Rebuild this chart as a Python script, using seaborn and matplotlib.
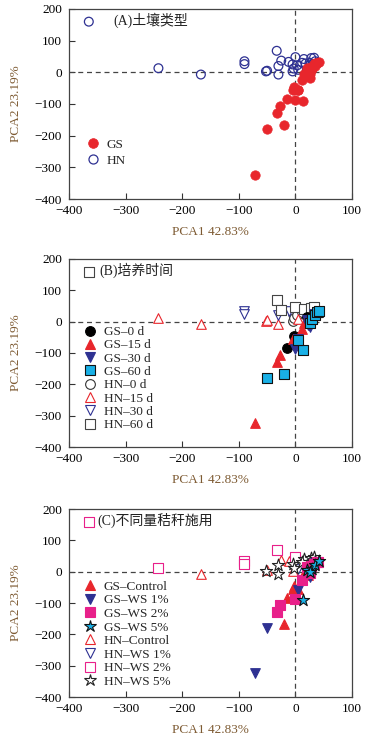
import matplotlib
matplotlib.use("Agg")
import matplotlib.pyplot as plt
import seaborn as sns
import pandas as pd
from matplotlib.lines import Line2D

sns.set_theme(style="white")
plt.rcParams['font.family'] = ['Liberation Serif', 'Noto Sans CJK SC']
plt.rcParams['axes.unicode_minus'] = True

# ---------------- data ----------------
gs_x = [-72, -50, -20, -33, -28, -15, 0, 14, -3, -5, 5, 5, 12, 25, 22, 25, 15, 20, 30, 28, 35, 33, 38, 42, 30, 20, 25, 35]
gs_y = [-323, -180, -166, -128, -105, -85, -88, -90, -45, -55, -57, -55, -25, -18, -10, -5, -5, 5, 10, 18, 20, 25, 30, 33, 15, 15, 0, 28]
gs_time = [15, 60, 60, 15, 15, 0, 30, 60, 0, 15, 60, 30, 15, 30, 30, 60, 15, 30, 60, 15, 60, 30, 60, 60, 0, 0, 0, 15]
gs_trt = ["WS1", "WS1", "Control", "WS2", "WS2", "Control", "WS2", "WS5", "Control", "Control", "WS1", "Control",
          "WS2", "WS1", "Control", "WS2", "Control", "WS5", "WS5", "WS2", "WS5", "WS2", "WS2", "WS5", "WS1", "WS2", "WS5", "WS1"]

hn_x = [-365, -242, -167, -90, -90, -52, -50, -33, -30, -30, -25, -12, -5, -5, -3, 0, 3, 5, 15, 18, 28, 33, 25, 35, 40, 12, 30]
hn_y = [160, 13, -7, 35, 26, 3, 5, 68, 20, -7, 37, 33, 25, 3, 12, 48, 22, 8, 42, 28, 45, 46, 30, 35, 30, 30, 25]
hn_time = [60, 15, 15, 30, 30, 15, 15, 60, 30, 15, 60, 30, 0, 0, 0, 60, 0, 15, 60, 30, 60, 60, 0, 15, 60, 0, 30]
hn_trt = ["WS2", "WS2", "Control", "WS2", "WS2", "WS5", "Control", "WS2", "WS5", "WS5", "Control", "Control",
          "WS5", "Control", "WS5", "WS2", "WS1", "WS1", "WS5", "WS1", "WS5", "WS5", "WS5", "WS5", "WS2", "WS5", "WS5"]

times = [0, 15, 30, 60]
treatments = ["Control", "WS1", "WS2", "WS5"]
trt_labels = {"Control": "Control", "WS1": "WS 1%", "WS2": "WS 2%", "WS5": "WS 5%"}
panel_titles = ["(A)土壤类型", "(B)培养时间", "(C)不同量秸秆施用"]
xlabel = "PCA1 42.83%"
ylabel = "PCA2 23.19%"

gs = pd.DataFrame({"x": gs_x, "y": gs_y, "time": gs_time, "trt": gs_trt, "soil": "GS"})
hn = pd.DataFrame({"x": hn_x, "y": hn_y, "time": hn_time, "trt": hn_trt, "soil": "HN"})

RED = "#e8262c"
NAVY = "#2e3192"
CYAN = "#19b0e6"
MAG = "#e8208a"
LABC = "#7d5a32"

W, H = 378, 736
fig = plt.figure(figsize=(W / 100, H / 100), dpi=100)
boxes = [(69, 9, 199), (69, 259, 447), (69, 509, 697)]
axes = []
for l, t, b in boxes:
    ax = fig.add_axes([l / W, (H - b) / H, 283 / W, (b - t) / H])
    axes.append(ax)

FS = 9.5


def style_axis(ax, title, tx):
    ax.set_xlim(-400, 100)
    ax.set_ylim(-400, 200)
    ax.set_xticks([-400, -300, -200, -100, 0, 100])
    ax.set_yticks([-400, -300, -200, -100, 0, 100, 200])
    ax.tick_params(direction="in", length=4, width=0.8, labelsize=FS, colors="#333333",
                   labelcolor="black", left=True, bottom=True)
    ax.tick_params(axis="y", pad=5)
    ax.tick_params(axis="x", pad=4)
    for s in ax.spines.values():
        s.set_color("#444444")
        s.set_linewidth(0.9)
    ax.axhline(0, color="#444444", ls=(0, (4, 3)), lw=0.9, zorder=1)
    ax.axvline(0, color="#444444", ls=(0, (4, 3)), lw=0.9, zorder=1)
    ax.set_xlabel(xlabel, color=LABC, fontsize=FS, labelpad=7)
    ax.set_ylabel(ylabel, color=LABC, fontsize=FS, labelpad=9)
    ax.text(tx, 163, title, fontsize=10, va="center", ha="left", color="#222222")


def scat(ax, df, marker, fc, ec, s, lw=0.8, z=3):
    sns.scatterplot(data=df, x="x", y="y", ax=ax, marker=marker, s=s,
                    color=fc, edgecolor=ec, linewidth=lw, zorder=z, legend=False)


def handle(marker, fc, ec, ms, lw=0.8):
    return Line2D([], [], ls="none", marker=marker, markerfacecolor=fc,
                  markeredgecolor=ec, markersize=ms, markeredgewidth=lw)


# ---------- panel A ----------
ax = axes[0]
scat(ax, hn, "o", "none", NAVY, 40, 0.9)
scat(ax, gs, "o", RED, RED, 46, 0.5, 4)
style_axis(ax, panel_titles[0], -322)
hA = [handle("o", RED, RED, 7, 0.5), handle("o", "none", NAVY, 6.5, 0.9)]
ax.legend(hA, ["GS", "HN"], loc="lower left", bbox_to_anchor=(0.03, 0.12), frameon=False,
          fontsize=FS, handletextpad=0.5, labelspacing=0.3, handlelength=1.0, borderpad=0.2)

# ---------- panel B ----------
ax = axes[1]
t_style_gs = {0: ("o", "black", "black"), 15: ("^", RED, RED), 30: ("v", NAVY, NAVY), 60: ("s", CYAN, "#111111")}
t_style_hn = {0: ("o", "white", "#333333"), 15: ("^", "white", RED), 30: ("v", "white", NAVY), 60: ("s", "white", "#444444")}
for t in times:
    m, fc, ec = t_style_hn[t]
    scat(ax, hn[hn.time == t], m, fc, ec, 48, 0.8, 3)
for t in times:
    m, fc, ec = t_style_gs[t]
    scat(ax, gs[gs.time == t], m, fc, ec, 48, 0.8, 4)
style_axis(ax, panel_titles[1], -346)
hB, lB = [], []
for t in times:
    m, fc, ec = t_style_gs[t]
    hB.append(handle(m, fc, ec, 7)); lB.append(f"GS–{t} d")
for t in times:
    m, fc, ec = t_style_hn[t]
    hB.append(handle(m, fc, ec, 7)); lB.append(f"HN–{t} d")
ax.legend(hB, lB, loc="lower left", bbox_to_anchor=(0.02, 0.035), frameon=False,
          fontsize=FS, handletextpad=0.5, labelspacing=0.08, handlelength=1.0, borderpad=0.2)

# ---------- panel C ----------
ax = axes[2]
c_style_gs = {"Control": ("^", RED, RED), "WS1": ("v", NAVY, NAVY), "WS2": ("s", MAG, MAG), "WS5": ("*", CYAN, "#111111")}
c_style_hn = {"Control": ("^", "white", RED), "WS1": ("v", "white", NAVY), "WS2": ("s", "white", MAG), "WS5": ("*", "white", "#222222")}
for tr in treatments:
    m, fc, ec = c_style_hn[tr]
    scat(ax, hn[hn.trt == tr], m, fc, ec, 85 if m == "*" else 48, 0.8, 3)
for tr in treatments:
    m, fc, ec = c_style_gs[tr]
    scat(ax, gs[gs.trt == tr], m, fc, ec, 85 if m == "*" else 48, 0.8, 4)
style_axis(ax, panel_titles[2], -349)
hC, lC = [], []
for tr in treatments:
    m, fc, ec = c_style_gs[tr]
    hC.append(handle(m, fc, ec, 9 if m == "*" else 7)); lC.append(f"GS–{trt_labels[tr]}")
for tr in treatments:
    m, fc, ec = c_style_hn[tr]
    hC.append(handle(m, fc, ec, 9 if m == "*" else 7)); lC.append(f"HN–{trt_labels[tr]}")
ax.legend(hC, lC, loc="lower left", bbox_to_anchor=(0.02, 0.0), frameon=False,
          fontsize=FS, handletextpad=0.5, labelspacing=0.1, handlelength=1.0, borderpad=0.2)

fig.savefig("out.png", dpi=100)
